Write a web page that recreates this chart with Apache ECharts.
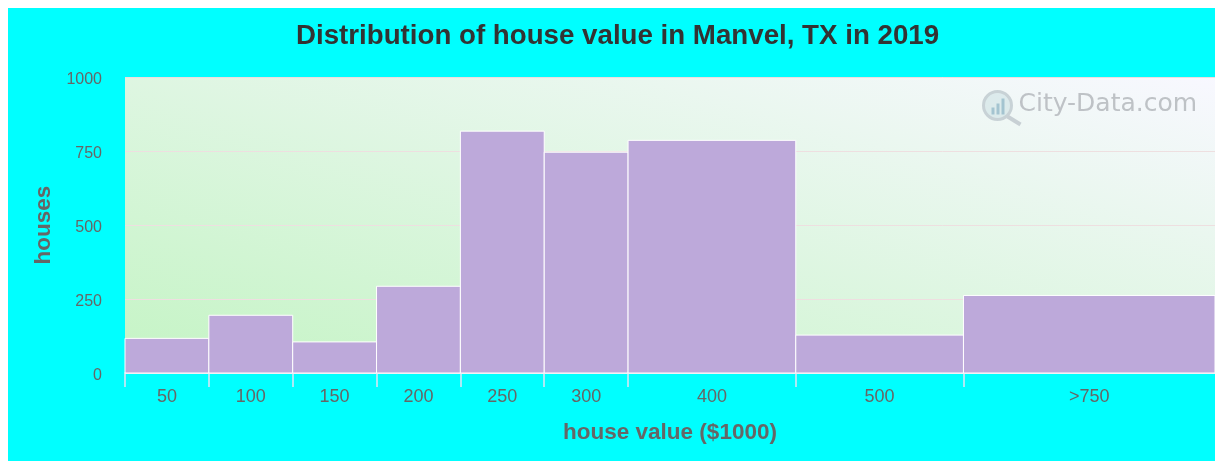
<!DOCTYPE html>
<html>
<head>
<meta charset="utf-8">
<title>Distribution of house value in Manvel, TX in 2019</title>
<script src="https://cdn.jsdelivr.net/npm/echarts@6/dist/echarts.min.js"></script>
<style>
  html, body { margin: 0; padding: 0; background: #fff; overflow: hidden; }
  #chart { position: absolute; left: 8px; top: 8px; width: 1207px; height: 453px; }
</style>
</head>
<body>
<div id="chart"></div>
<script>
// bins
const binLabels = ['50', '100', '150', '200', '250', '300', '400', '500', '>750'];
const binWidths = [1, 1, 1, 1, 1, 1, 2, 2, 3];
const houses = [117, 195, 105, 293, 817, 746, 786, 128, 262];
const yTicks = [0, 250, 500, 750, 1000];

// bin edges and centres on the x scale
const edges = [0];
binWidths.forEach((w, i) => edges.push(edges[i] + w));
const centres = binWidths.map((w, i) => edges[i] + w / 2);

const chart = echarts.init(document.getElementById('chart'));

const option = {
  animation: false,
  backgroundColor: '#00ffff',
  textStyle: { fontFamily: 'Liberation Sans' },
  title: {
    text: 'Distribution of house value in Manvel, TX in 2019',
    left: 283,
    top: 9,
    textStyle: { fontSize: 27.7, fontWeight: 'bold', color: '#333333', fontFamily: 'Liberation Sans' }
  },
  grid: {
    left: 117,
    right: 0,
    top: 69,
    bottom: 88,
    show: true,
    borderWidth: 0,
    // contours run along the plot's diagonal, green corner at bottom left
    backgroundColor: new echarts.graphic.LinearGradient(0.431, 1.431, 0.569, -0.431, [
      { offset: 0, color: '#c4f4c4' },
      { offset: 1, color: '#f8f8ff' }
    ])
  },
  xAxis: {
    type: 'value',
    min: 0,
    max: edges[edges.length - 1],
    name: 'house value ($1000)',
    nameLocation: 'middle',
    nameGap: 48,
    nameTextStyle: { fontSize: 22.5, fontWeight: 'bold', color: '#666666' },
    splitLine: { show: false },
    axisLine: { show: true, lineStyle: { color: '#e4e4f4', width: 1.5 } },
    axisTick: { show: true, length: 14, customValues: edges.slice(0, -1), lineStyle: { color: '#e4e4f4', width: 1.5 } },
    axisLabel: {
      customValues: centres,
      margin: 15,
      fontSize: 18,
      color: '#666666',
      formatter: v => binLabels[centres.indexOf(v)]
    }
  },
  yAxis: {
    type: 'value',
    min: 0,
    max: 1000,
    interval: 250,
    name: 'houses',
    nameLocation: 'middle',
    nameGap: 69,
    nameTextStyle: { fontSize: 22.5, fontWeight: 'bold', color: '#666666' },
    axisLine: { show: false },
    axisTick: { show: false },
    splitLine: { show: true, lineStyle: { color: '#eedfe0', width: 1 } },
    axisLabel: {
      margin: 23,
      customValues: yTicks,
      formatter: v => '{a|' + v + '}',
      rich: { a: { fontSize: 16, color: '#666666', padding: [5, 0, 0, 0] } }
    }
  },
  series: [{
    type: 'custom',
    data: houses.map((h, i) => [edges[i], edges[i + 1], h]),
    encode: { x: [0, 1], y: 2 },
    clip: false,
    renderItem: (params, api) => {
      const p0 = api.coord([api.value(0), 0]);
      const p1 = api.coord([api.value(1), api.value(2)]);
      return {
        type: 'rect',
        shape: { x: p0[0], y: p1[1], width: p1[0] - p0[0], height: p0[1] - p1[1] },
        style: { fill: '#bda9da', stroke: '#ffffff', lineWidth: 1 }
      };
    }
  }],
  graphic: [
    // City-Data watermark
    {
      type: 'group',
      left: 974,
      top: 82,
      silent: true,
      children: [
        { type: 'circle', shape: { cx: 15, cy: 15, r: 14 }, style: { fill: 'rgba(190,215,220,0.4)', stroke: '#c8d2d6', lineWidth: 3 } },
        { type: 'line', shape: { x1: 25, y1: 26, x2: 38, y2: 34 }, style: { stroke: '#c8d0d4', lineWidth: 4 } },
        { type: 'rect', shape: { x: 9, y: 17, width: 3, height: 7 }, style: { fill: '#a4c4d0' } },
        { type: 'rect', shape: { x: 14, y: 13, width: 3, height: 11 }, style: { fill: '#a4c4d0' } },
        { type: 'rect', shape: { x: 19, y: 8, width: 3, height: 16 }, style: { fill: '#a4c4d0' } },
        { type: 'text', x: 36, y: 1, style: { text: 'City-Data.com', font: '25px "DejaVu Sans"', fill: '#bec2c6' } }
      ]
    }
  ]
};

chart.setOption(option);
</script>
</body>
</html>
